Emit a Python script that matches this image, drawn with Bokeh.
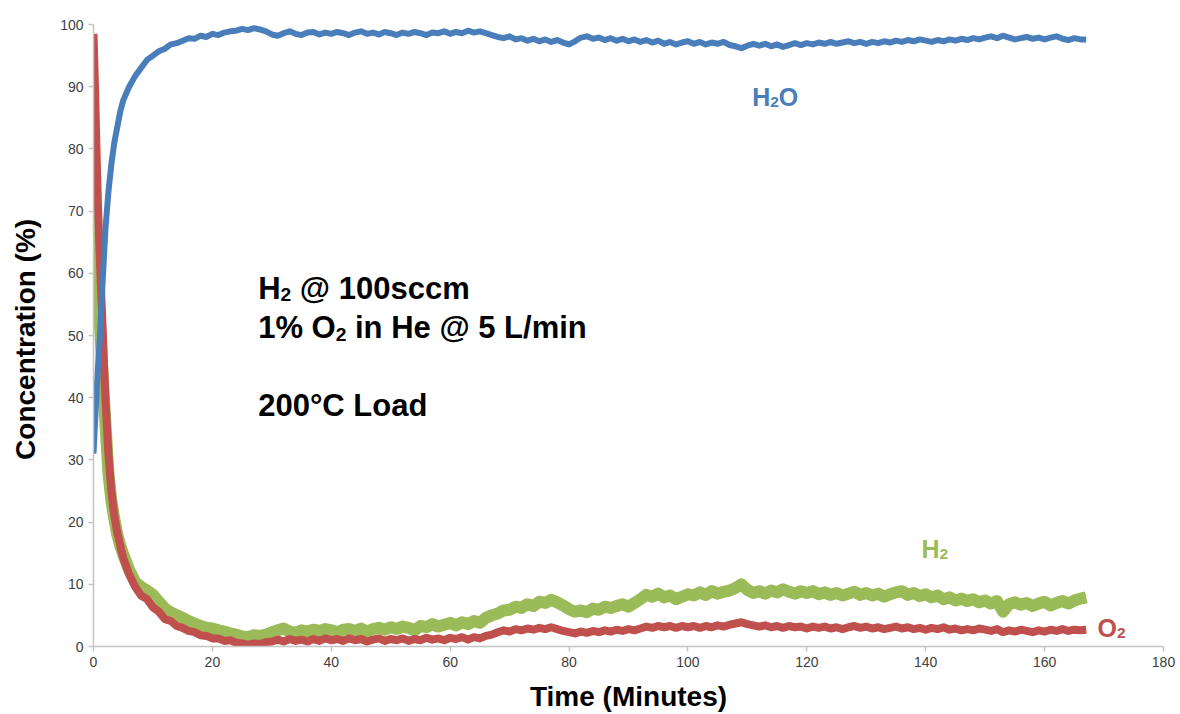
from bokeh.plotting import figure
from bokeh.models import Label, FixedTicker, Range1d
from bokeh.embed import file_html
from bokeh.resources import INLINE

# ---------------- data ----------------
minutes = [0, 0.25, 0.5, 0.75, 1, 1.5, 2, 2.5, 3, 3.5, 4, 4.5] + list(range(5, 168))

h2o = [31, 36, 40.5, 45, 48.5, 58, 67, 73, 77.5, 81, 83.5, 86,
       87.8, 90.0, 91.7, 93.0, 94.3, 95.0, 95.7, 96.1, 96.8, 97.0,
       97.4, 97.8, 97.7, 98.2, 98.0, 98.5, 98.3, 98.7, 98.9, 99.0,
       99.3, 99.1, 99.4, 99.2, 98.9, 98.4, 98.2, 98.6, 98.9, 98.5,
       98.3, 98.7, 98.8, 98.4, 98.7, 98.5, 98.8, 98.6, 98.3, 98.7,
       98.9, 98.5, 98.7, 98.4, 98.8, 98.6, 98.3, 98.7, 98.5, 98.8,
       98.6, 98.3, 98.7, 98.6, 98.9, 98.5, 98.8, 98.6, 99.0, 98.7,
       98.9, 98.6, 98.3, 98.0, 97.8, 98.1, 97.6, 97.8, 97.4, 97.7,
       97.3, 97.6, 97.2, 97.5, 97.1, 96.8, 97.3, 97.9, 98.1, 97.7,
       97.9, 97.5, 97.8, 97.4, 97.7, 97.3, 97.6, 97.2, 97.5, 97.1,
       97.4, 96.9, 97.2, 96.8, 97.1, 97.3, 96.9, 97.2, 96.8, 97.1,
       96.9, 97.2, 96.7, 96.5, 96.2, 96.6, 96.9, 96.6, 96.9, 96.5,
       96.8, 96.4, 96.7, 97.0, 96.7, 97.0, 96.8, 97.1, 96.9, 97.2,
       96.9, 97.1, 97.3, 97.0, 97.2, 96.9, 97.2, 97.0, 97.3, 97.1,
       97.4, 97.2, 97.5, 97.3, 97.6, 97.4, 97.2, 97.5, 97.3, 97.6,
       97.4, 97.7, 97.5, 97.8, 97.6, 97.9, 98.1, 97.8, 98.2, 97.9,
       97.6, 97.8, 98.0, 97.7, 97.9, 97.6, 97.9, 98.1, 97.7, 97.5,
       97.8, 97.6, 97.6]

o2 = [98.5, 90, 80, 71, 64, 52, 40, 31, 25, 21, 18.3, 16.2,
      14.2, 11.6, 9.6, 8.2, 7.6, 6.3, 5.6, 4.4, 4.1, 3.3,
      3.0, 2.5, 2.3, 1.8, 1.7, 1.3, 1.3, 0.9, 1.0, 0.6,
      0.5, 0.3, 0.5, 0.4, 0.7, 0.8, 1.1, 0.8, 1.2, 0.9,
      1.1, 0.8, 1.2, 0.9, 1.3, 1.0, 1.2, 0.9, 1.3, 1.0,
      1.2, 0.8, 1.1, 1.3, 0.9, 1.2, 1.0, 1.3, 0.9, 1.2,
      1.0, 1.4, 1.1, 1.3, 1.0, 1.4, 1.2, 1.5, 1.1, 1.5,
      1.3, 1.7, 1.9, 2.3, 2.6, 2.4, 2.8, 2.6, 2.9, 2.7,
      3.0, 2.8, 3.1, 2.8, 2.5, 2.3, 2.1, 2.4, 2.2, 2.5,
      2.3, 2.6, 2.4, 2.7, 2.5, 2.8, 2.6, 2.9, 3.2, 3.0,
      3.3, 3.1, 3.3, 3.0, 3.3, 3.1, 3.3, 3.0, 3.3, 3.1,
      3.4, 3.2, 3.5, 3.7, 3.9, 3.6, 3.4, 3.2, 3.4, 3.1,
      3.3, 3.0, 3.3, 3.1, 3.2, 2.9, 3.2, 3.0, 3.2, 2.9,
      3.1, 2.8, 3.1, 3.3, 3.0, 3.2, 2.9, 3.1, 2.8, 3.0,
      3.2, 2.9, 3.1, 2.8, 3.0, 2.7, 3.0, 2.8, 3.1, 2.7,
      2.9, 2.6, 2.8, 2.6, 2.9, 2.7, 2.5, 2.8, 2.3, 2.6,
      2.4, 2.7, 2.5, 2.3, 2.6, 2.4, 2.7, 2.5, 2.8, 2.5,
      2.7, 2.6, 2.7]

h2 = [76, 70, 65, 59, 53.5, 44, 36, 28, 23.5, 20.5, 18, 16.2,
      14.8, 12.3, 10.4, 9.6, 9.0, 8.3, 7.2, 6.1, 5.5, 5.0,
      4.6, 4.1, 3.7, 3.3, 3.0, 2.9, 2.6, 2.4, 2.1, 1.9,
      1.6, 1.5, 1.8, 1.7, 1.9, 2.3, 2.6, 2.9, 2.4, 2.2,
      2.6, 2.4, 2.7, 2.5, 2.8, 2.6, 2.3, 2.7, 2.8, 2.5,
      2.9, 2.4, 2.8, 3.0, 2.7, 3.1, 2.8, 3.2, 3.0, 2.6,
      3.3, 3.1, 3.6, 3.2, 3.5, 3.8, 3.4, 3.9, 3.6, 4.1,
      3.8, 4.6, 5.0, 5.3, 5.8, 5.9, 6.4, 6.2, 6.8, 6.5,
      7.2, 7.0, 7.5, 7.1, 6.6, 6.0, 5.6, 5.8, 5.5, 6.1,
      5.9, 6.4, 6.2, 6.5, 6.8, 6.4, 7.0, 7.6, 8.3, 8.0,
      8.5, 7.9, 8.2, 7.6, 8.0, 8.4, 8.2, 8.7, 8.3, 8.9,
      8.5, 8.8, 9.0, 9.4, 10.0, 9.1, 8.6, 8.9, 8.5, 9.0,
      8.7, 9.2, 8.8, 8.5, 8.9, 8.6, 8.9, 8.4, 8.7, 8.3,
      8.6, 8.2, 8.5, 8.8, 8.3, 8.6, 8.2, 8.5, 8.0, 8.4,
      8.7, 8.9, 8.3, 8.6, 8.1, 8.4, 7.9, 8.2, 7.6, 7.9,
      7.4, 7.7, 7.3, 7.6, 7.1, 7.4, 6.9, 7.3, 5.6, 6.8,
      7.1, 6.7, 7.0, 6.5, 6.9, 7.2, 6.6, 7.0, 7.3, 6.9,
      7.4, 7.7, 7.9]

x_ticks = [0, 20, 40, 60, 80, 100, 120, 140, 160, 180]
y_ticks = [0, 10, 20, 30, 40, 50, 60, 70, 80, 90, 100]

x_title = "Time (Minutes)"
y_title = "Concentration  (%)"

BLUE = "#4a7ebb"
RED = "#c0504d"
GREEN = "#9bbb59"
FONT = "Liberation Sans"

# ---------------- figure ----------------
p = figure(width=1180, height=714,
           x_range=Range1d(0, 180), y_range=Range1d(0, 100),
           output_backend="svg", toolbar_location=None,
           min_border_left=93, min_border_right=17,
           min_border_top=24, min_border_bottom=67)
p.outline_line_color = None
p.grid.visible = False
p.background_fill_color = "white"
p.border_fill_color = "white"

p.xaxis.ticker = FixedTicker(ticks=x_ticks)
p.yaxis.ticker = FixedTicker(ticks=y_ticks)
for ax in (p.xaxis[0], p.yaxis[0]):
    ax.axis_line_color = "#c4c4c4"
    ax.axis_line_width = 1.5
    ax.major_tick_line_color = "#c4c4c4"
    ax.major_tick_line_width = 1.5
    ax.major_tick_out = 5
    ax.major_tick_in = 0
    ax.minor_tick_out = 0
    ax.minor_tick_in = 0
    ax.major_label_text_font = FONT
    ax.major_label_text_font_size = "14px"
    ax.major_label_text_color = "#404040"
    ax.major_label_standoff = 5
    ax.axis_label_text_font = FONT
    ax.axis_label_text_font_style = "bold"
    ax.axis_label_text_font_size = "28px"
    ax.axis_label_text_color = "black"
p.xaxis.axis_label = x_title
p.yaxis.axis_label = y_title
p.xaxis.axis_label_standoff = 11
p.yaxis.axis_label_standoff = 16

p.line(minutes, h2, line_color=GREEN, line_width=12, line_join="round")
p.line(minutes, o2, line_color=RED, line_width=8, line_join="round")
p.line(minutes, h2o, line_color=BLUE, line_width=6, line_join="round")

# ---------------- text with subscripts ----------------
W = {"H": 722, "2": 556, "O": 778, " ": 278, "@": 975, "1": 556, "0": 556,
     "s": 556, "c": 556, "m": 889, "%": 889, "i": 278, "n": 611, "e": 556,
     "5": 556, "L": 611, "/": 278, "°": 400, "C": 722, "o": 611, "a": 556,
     "d": 611}

LIFT = 10  # pixels: compensates the baseline placement of Label text


def text_width(s, size):
    return sum(W.get(ch, 556) for ch in s) * size / 1000.0


def rich_label(x, y, parts, size, color):
    off = 0.0
    for txt, sub in parts:
        fs = size * 0.62 if sub else size
        stripped = txt.lstrip(" ")
        off += text_width(txt[:len(txt) - len(stripped)], fs)
        p.add_layout(Label(x=x, y=y, x_offset=off,
                           y_offset=LIFT + (-0.2 * size if sub else 0),
                           text=stripped, text_font=FONT, text_font_style="bold",
                           text_font_size=f"{fs:.1f}px", text_color=color,
                           text_baseline="alphabetic", text_align="left"))
        off += text_width(stripped, fs)


rich_label(27.7, 56.0, [("H", False), ("2", True), (" @ 100sccm", False)], 31, "black")
rich_label(27.7, 49.6, [("1% O", False), ("2", True), (" in He @ 5 L/min", False)], 31, "black")
rich_label(27.7, 37.2, [("200°C Load", False)], 31, "black")

rich_label(110.8, 86.7, [("H", False), ("2", True), ("O", False)], 25, BLUE)
rich_label(139.3, 14.0, [("H", False), ("2", True)], 25, GREEN)
rich_label(168.9, 1.4, [("O", False), ("2", True)], 25, RED)

open("out.html", "w").write(file_html(p, INLINE))
